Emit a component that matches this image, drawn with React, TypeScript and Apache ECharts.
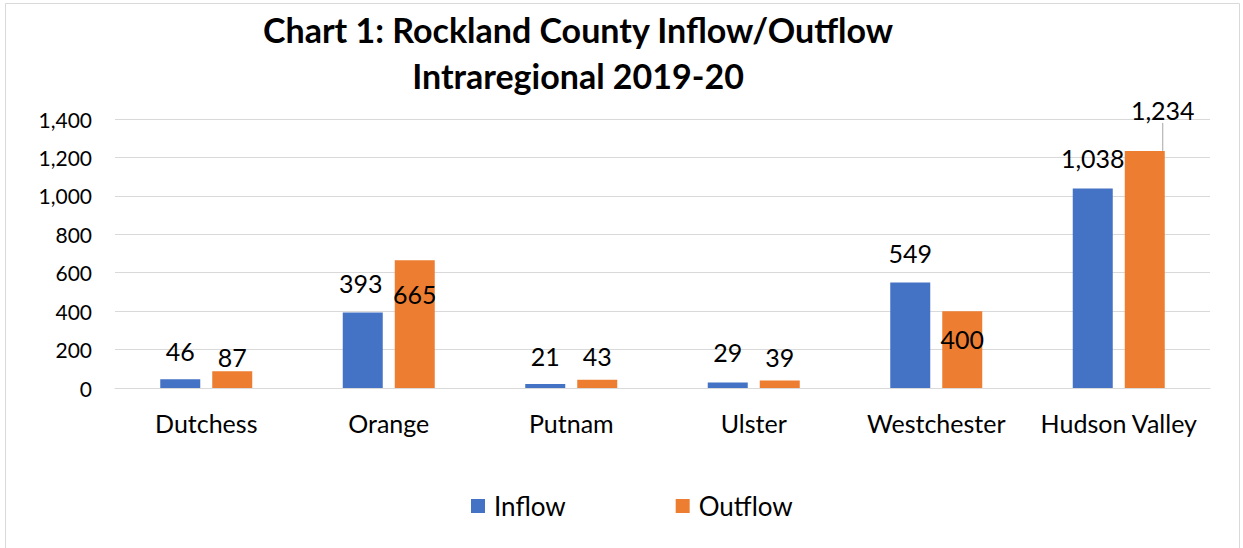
import React, { useEffect, useRef } from "react";
import * as echarts from "echarts";

const categories = ["Dutchess", "Orange", "Putnam", "Ulster", "Westchester", "Hudson Valley"];
const inflow = [46, 393, 21, 29, 549, 1038];
const outflow = [87, 665, 43, 39, 400, 1234];
const yTicks = [0, 200, 400, 600, 800, 1000, 1200, 1400];

// label offsets [dx, dy] mimicking the reference placement
const inflowOffsets = [[0, -16], [-2, -17], [0, -15], [0, -18], [0, -17], [0, -18]];
const outflowOffsets = [[0, -2], [0, 46], [0, -11], [0, -11], [0, 40], [18, -28]];
const leaderLineIndex = 5;

const FONT = "Lato, 'Open Sans', sans-serif";

export default function App() {
  const ref = useRef<HTMLDivElement>(null);
  useEffect(() => {
    if (!ref.current) return;
    const chart = echarts.init(ref.current, undefined, { renderer: "svg" });
    const fmt = (v: number) => v.toLocaleString("en-US");
    const labelBase = {
      show: true,
      position: "top",
      distance: 0,
      fontSize: 25,
      color: "#000",
      fontFamily: FONT,
      formatter: (p: any) => fmt(p.value),
    };
    chart.setOption({
      animation: false,
      textStyle: { fontFamily: FONT },
      title: {
        text: "Chart 1: Rockland County Inflow/Outflow\nIntraregional 2019-20",
        left: 573,
        textAlign: "center",
        top: 1,
        textStyle: { fontSize: 34, fontWeight: "bold", color: "#000", lineHeight: 46, fontFamily: FONT },
      },
      graphic: [
        {
          type: "rect",
          shape: { x: 5.5, y: 3.5, width: 1234, height: 560 },
          style: { fill: "none", stroke: "#d9d9d9", lineWidth: 1 },
          silent: true,
        },
      ],
      legend: {
        bottom: 24,
        left: 466,
        itemWidth: 14,
        itemHeight: 14,
        itemGap: 110,
        icon: "rect",
        textStyle: { fontSize: 26, color: "#000", fontFamily: FONT, padding: [0, 0, 0, 4] },
        data: ["Inflow", "Outflow"],
      },
      grid: { left: 115, right: 33, top: 119, bottom: 160 },
      xAxis: {
        type: "category",
        data: categories,
        axisTick: { show: false },
        axisLine: { lineStyle: { color: "#d9d9d9" } },
        axisLabel: { fontSize: 25, color: "#000", margin: 22, interval: 0, fontFamily: FONT },
      },
      yAxis: {
        type: "value",
        min: yTicks[0],
        max: yTicks[yTicks.length - 1],
        interval: 200,
        axisLine: { show: false },
        axisTick: { show: false },
        splitLine: { lineStyle: { color: "#d9d9d9", width: 1 } },
        axisLabel: {
          fontSize: 21,
          color: "#000",
          margin: 23,
          fontFamily: FONT,
          formatter: (v: number) => fmt(v),
        },
      },
      series: [
        {
          name: "Inflow",
          type: "bar",
          barWidth: 40,
          barGap: "30%",
          itemStyle: { color: "#4472C4" },
          label: labelBase,
          labelLayout: (p: any) => ({ dx: inflowOffsets[p.dataIndex][0], dy: inflowOffsets[p.dataIndex][1] }),
          data: inflow,
        },
        {
          name: "Outflow",
          type: "bar",
          barWidth: 40,
          itemStyle: { color: "#ED7D31" },
          label: labelBase,
          labelLine: { show: false, lineStyle: { color: "#a6a6a6", width: 1 } },
          labelLayout: (p: any) => ({ dx: outflowOffsets[p.dataIndex][0], dy: outflowOffsets[p.dataIndex][1] }),
          data: outflow.map((v, i) =>
            i === leaderLineIndex
              ? { value: v, labelLine: { show: true, lineStyle: { color: "#a6a6a6", width: 1 } } }
              : v
          ),
        },
      ],
    });
    return () => chart.dispose();
  }, []);
  return (
    <div
      ref={ref}
      style={{ position: "absolute", left: 0, top: 0, width: 1243, height: 548, background: "#fff" }}
    />
  );
}
